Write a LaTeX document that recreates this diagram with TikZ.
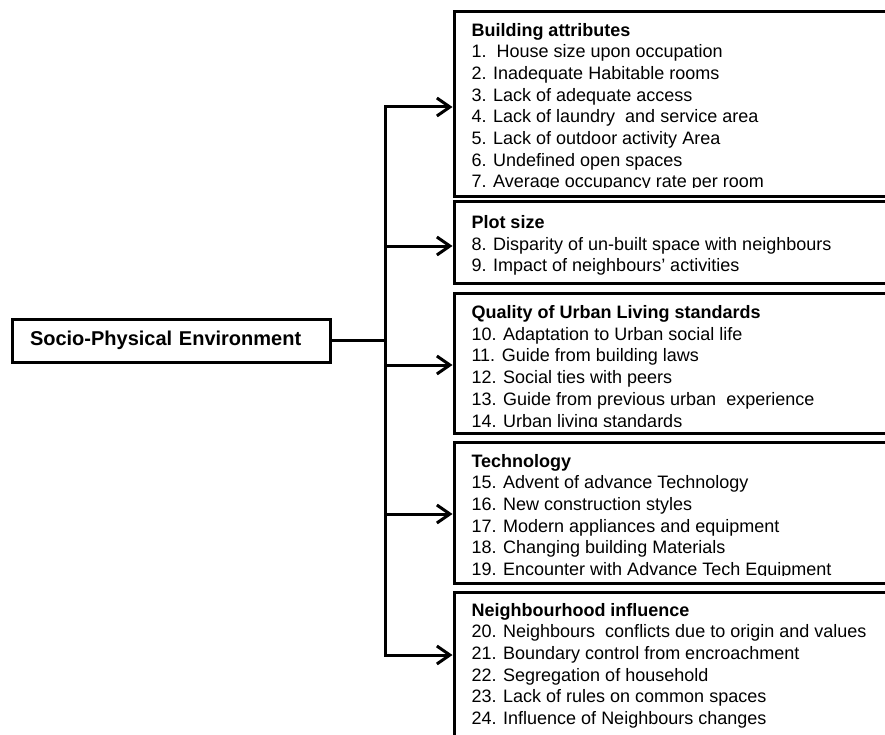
\documentclass[tikz,border=0pt]{standalone}
\usepackage{fontspec}
\setmainfont{Liberation Sans}
\usetikzlibrary{arrows.meta}
\usetikzlibrary{positioning}
\usetikzlibrary{calc}

\begin{document}
\begin{tikzpicture}[x=1pt,y=-1pt,line width=3pt]
        \tikzstyle{catbox}=[draw, rectangle, anchor=north west, outer sep=0pt, inner sep=0pt, minimum width=460pt]
        \tikzstyle{items}=[align=left, anchor=north west, inner sep=0pt, font=\fontsize{18}{21.7}\selectfont]
        \tikzstyle{arr}=[shorten >=1.5pt, -{Straight Barb[length=13pt,width=18pt]}]
        \clip (0,0) rectangle (885,735);
        % main factor on the left
        \node[draw, anchor=north west, outer sep=0pt, inner xsep=18pt, text width=282pt, align=left,
              minimum height=43pt, font=\fontsize{20}{24}\selectfont\bfseries] (spe) at (12,319) {Socio-Physical Environment};
        % the five groups of factors
        \node[catbox, minimum height=185pt] (building) at (454,12) {};
        \node[catbox, minimum height=81pt] (plot) at (454,202) {};
        \node[catbox, minimum height=140pt] (quality) at (454,293) {};
        \node[catbox, minimum height=141pt] (technology) at (454,442) {};
        \node[catbox, minimum height=170pt] (neighbour) at (454,592) {};
        \begin{scope}
          \clip (building.north west) rectangle ($(building.south east)+(0,-9)$);
          \node[items, below right=9.5pt and 16pt of building.north west] (buildinglist) {\textbf{Building attributes}\\
            1.\ \ House size upon occupation\\ 2. Inadequate Habitable rooms\\ 3. Lack of adequate access\\
            4. Lack of laundry\ \ and service area\\ 5. Lack of outdoor activity Area\\ 6. Undefined open spaces\\
            7. Average occupancy rate per room};
        \end{scope}
        \begin{scope}
          \clip (plot.north west) rectangle ($(plot.south east)+(0,-7)$);
          \node[items, below right=12pt and 16pt of plot.north west] (plotlist) {\textbf{Plot size}\\
            8. Disparity of un-built space with neighbours\\ 9. Impact of neighbours’ activities};
        \end{scope}
        \begin{scope}
          \clip (quality.north west) rectangle ($(quality.south east)+(0,-7)$);
          \node[items, below right=11pt and 16pt of quality.north west] (qualitylist) {\textbf{Quality of Urban Living standards}\\
            10. Adaptation to Urban social life\\ 11. Guide from building laws\\ 12. Social ties with peers\\
            13. Guide from previous urban\ \ experience\\ 14. Urban living standards};
        \end{scope}
        \begin{scope}
          \clip (technology.north west) rectangle ($(technology.south east)+(0,-7.5)$);
          \node[items, below right=10.5pt and 16pt of technology.north west] (technologylist) {\textbf{Technology}\\
            15. Advent of advance Technology\\ 16. New construction styles\\ 17. Modern appliances and equipment\\
            18. Changing building Materials\\ 19. Encounter with Advance Tech Equipment};
        \end{scope}
        \begin{scope}
          \clip (neighbour.north west) rectangle ($(neighbour.south east)+(0,-7)$);
          \node[items, below right=9.5pt and 16pt of neighbour.north west] (neighbourlist) {\textbf{Neighbourhood influence}\\
            20. Neighbours\ \ conflicts due to origin and values\\ 21. Boundary control from encroachment\\
            22. Segregation of household\\ 23. Lack of rules on common spaces\\ 24. Influence of Neighbours changes};
        \end{scope}
        % branching lines
        \coordinate (tbuilding) at (385,107);
        \coordinate (tneighbour) at (385,655);
        \draw[line cap=rect] (tbuilding) -- (tneighbour);
        \draw (spe.east) -- (spe.east -| tbuilding);
        \foreach \cat/\y in {building/107, plot/246, quality/365, technology/514, neighbour/655} {
          \coordinate (t\cat) at (385,\y);
          \draw[arr] (t\cat) -- (\cat.west |- t\cat);
        }
      \end{tikzpicture}
\end{document}
